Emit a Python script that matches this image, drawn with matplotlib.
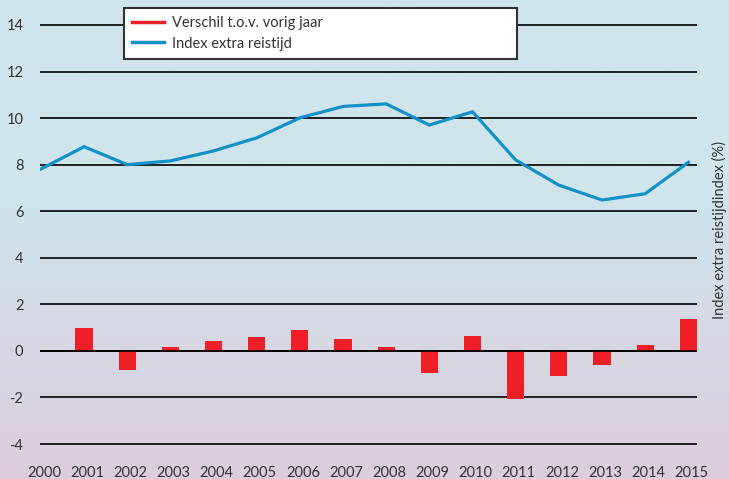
import numpy as np
import matplotlib
matplotlib.use("Agg")
import matplotlib.pyplot as plt
from matplotlib.transforms import ScaledTranslation
from matplotlib.lines import Line2D

years = list(range(2000, 2016))
index_extra = [7.81, 8.77, 8.0, 8.16, 8.59, 9.15, 10.01, 10.5, 10.61, 9.7, 10.27, 8.2, 7.12, 6.48, 6.75, 8.1]
verschil = [0.0, 0.98, -0.8, 0.18, 0.43, 0.6, 0.88, 0.5, 0.18, -0.95, 0.65, -2.08, -1.06, -0.62, 0.26, 1.37]
yticks = [-4, -2, 0, 2, 4, 6, 8, 10, 12, 14]

W, H = 729, 479
fig = plt.figure(figsize=(W / 100, H / 100), dpi=100)
plt.rcParams['font.family'] = ['Lato', 'DejaVu Sans']

# background gradient
bg = fig.add_axes([0, 0, 1, 1], zorder=-10)
ys = np.linspace(0, H, 300)
stops_y = [0, 200, 300, 479]
stops_c = np.array([[207, 229, 236], [207, 228, 235], [213, 219, 229], [220, 205, 220]]) / 255.0
grad = np.stack([np.interp(ys, stops_y, stops_c[:, i]) for i in range(3)], axis=-1)
grad = grad[:, None, :]
bg.imshow(grad, aspect='auto', extent=[0, 1, 0, 1])
bg.set_axis_off()

# main axes
left, right = 40 / W, 697 / W
top_px, bot_px = 5, 455
ax = fig.add_axes([left, 1 - bot_px / H, right - left, (bot_px - top_px) / H])
ax.set_facecolor('none')
ppu = 23.35
ax.set_ylim(-4 - (bot_px - 444) / ppu, 14 + (25 - top_px) / ppu)
ax.set_xlim(2000 - 0.02, 2015.2)

for s in ax.spines.values():
    s.set_visible(False)
ax.set_yticks(yticks)
ax.set_yticklabels([str(t) for t in yticks])
ax.yaxis.grid(True, color='black', linewidth=1.2)
ax.set_axisbelow(True)
ax.tick_params(axis='both', length=0, labelsize=10.5, labelcolor='#333333')
ax.tick_params(axis='y', pad=12)
ax.tick_params(axis='x', pad=8)
ax.set_xticks(years)
ax.set_xticklabels([str(y) for y in years])
off = ScaledTranslation(3 / 100, 0, fig.dpi_scale_trans)
for lab in ax.get_xticklabels():
    lab.set_transform(lab.get_transform() + off)

ax.bar(years, verschil, width=0.4, color='#ee1f27', zorder=2, label='Verschil t.o.v. vorig jaar')
ax.axhline(0, color='black', linewidth=1.2, zorder=3)
ax.plot(years, index_extra, color='#1290c8', linewidth=2.3, zorder=4, label='Index extra reistijd',
        solid_joinstyle='miter')

handles = [Line2D([], [], color='#ee1f27', linewidth=2.5),
           Line2D([], [], color='#1290c8', linewidth=2.5)]
leg = fig.legend(handles, ['Verschil t.o.v. vorig jaar', 'Index extra reistijd'],
                 loc='upper left', bbox_to_anchor=(124 / W, 1 - 8 / H, 393 / W, 0.0),
                 bbox_transform=fig.transFigure, mode='expand', borderaxespad=0,
                 fancybox=False, framealpha=1, edgecolor='#333333', fontsize=10.5,
                 handlelength=2.2, handletextpad=0.55, labelspacing=0.45, borderpad=0.55)
leg.get_frame().set_linewidth(1.5)
for t in leg.get_texts():
    t.set_color('#333333')

fig.text(719 / W, 1 - 230 / H, 'Index extra reistijdindex (%)', rotation=90,
         ha='center', va='center', fontsize=10.5, color='#333333')

fig.savefig('out.png', dpi=100)
